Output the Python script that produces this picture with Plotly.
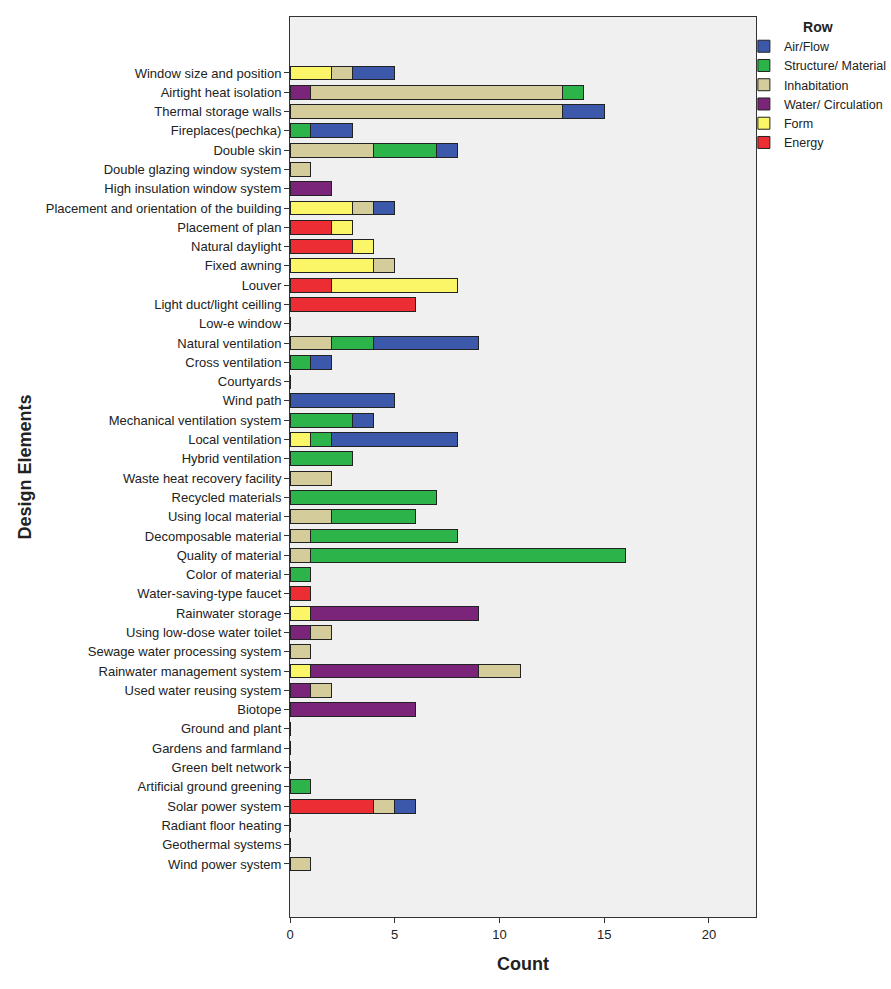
import plotly.graph_objects as go

categories = [
    "Window size and position", "Airtight heat isolation", "Thermal storage walls",
    "Fireplaces(pechka)", "Double skin", "Double glazing window system",
    "High insulation window system", "Placement and orientation of the building",
    "Placement of plan", "Natural daylight", "Fixed awning", "Louver",
    "Light duct/light ceilling", "Low-e window", "Natural ventilation",
    "Cross ventilation", "Courtyards", "Wind path", "Mechanical ventilation system",
    "Local ventilation", "Hybrid ventilation", "Waste heat recovery facility",
    "Recycled materials", "Using local material", "Decomposable material",
    "Quality of material", "Color of material", "Water-saving-type faucet",
    "Rainwater storage", "Using low-dose water toilet", "Sewage water processing system",
    "Rainwater management system", "Used water reusing system", "Biotope",
    "Ground and plant", "Gardens and farmland", "Green belt network",
    "Artificial ground greening", "Solar power system", "Radiant floor heating",
    "Geothermal systems", "Wind power system",
]

energy =       [0,0,0,0,0,0,0,0,2,3,0,2,6,0,0,0,0,0,0,0,0,0,0,0,0,0,0,1,0,0,0,0,0,0,0,0,0,0,4,0,0,0]
form =         [2,0,0,0,0,0,0,3,1,1,4,6,0,0,0,0,0,0,0,1,0,0,0,0,0,0,0,0,1,0,0,1,0,0,0,0,0,0,0,0,0,0]
water =        [0,1,0,0,0,0,2,0,0,0,0,0,0,0,0,0,0,0,0,0,0,0,0,0,0,0,0,0,8,1,0,8,1,6,0,0,0,0,0,0,0,0]
inhabitation = [1,12,13,0,4,1,0,1,0,0,1,0,0,0,2,0,0,0,0,0,0,2,0,2,1,1,0,0,0,1,1,2,1,0,0,0,0,0,1,0,0,1]
structure =    [0,1,0,1,3,0,0,0,0,0,0,0,0,0,2,1,0,0,3,1,3,0,7,4,7,15,1,0,0,0,0,0,0,0,0,0,0,1,0,0,0,0]
airflow =      [2,0,2,2,1,0,0,1,0,0,0,0,0,0,5,1,0,5,1,6,0,0,0,0,0,0,0,0,0,0,0,0,0,0,0,0,0,0,1,0,0,0]

series = [
    ("Energy", energy, "rgb(236,46,52)"),
    ("Form", form, "rgb(250,246,104)"),
    ("Water/ Circulation", water, "rgb(122,36,122)"),
    ("Inhabitation", inhabitation, "rgb(212,204,154)"),
    ("Structure/ Material", structure, "rgb(44,180,74)"),
    ("Air/Flow", airflow, "rgb(60,88,170)"),
]

x_ticks = [0, 5, 10, 15, 20]

fig = go.Figure()
for name, vals, color in series:
    fig.add_trace(go.Bar(
        y=categories, x=vals, name=name, orientation="h",
        marker=dict(color=color, line=dict(color="#222222", width=1)),
        width=0.72,
    ))

n = len(categories)
fig.update_layout(
    barmode="stack",
    width=891, height=989,
    margin=dict(l=290, r=135, t=17, b=72, autoexpand=False),
    paper_bgcolor="white",
    plot_bgcolor="#F0F0F0",
    font=dict(family="Liberation Sans, Arial, sans-serif", size=13, color="#222222"),
    showlegend=True,
    legend=dict(
        x=0.974, xanchor="left", y=1.004, yanchor="top",
        traceorder="reversed",
        title=dict(text="<b>Row</b>", side="top center", font=dict(size=14)),
        font=dict(size=12.5),
        bgcolor="rgba(0,0,0,0)",
        itemclick=False,
        tracegroupgap=0,
    ),
    xaxis=dict(
        range=[0, 22.25], tickvals=x_ticks, showgrid=False, zeroline=False,
        showline=True, linecolor="#333333", linewidth=1, mirror=True,
        ticks="outside", ticklen=5, tickcolor="#333333",
        title=dict(text="<b>Count</b>", font=dict(size=18), standoff=16),
    ),
    yaxis=dict(
        type="category", categoryorder="array", categoryarray=categories,
        range=[n - 1 + 2.75, -2.9], showgrid=False, zeroline=False,
        showline=True, linecolor="#333333", linewidth=1, mirror=True,
        ticks="outside", ticklen=5, tickcolor="#333333",
        title=dict(text="<b>Design Elements</b>", font=dict(size=18), standoff=9),
    ),
)

fig.write_html("out.html")
